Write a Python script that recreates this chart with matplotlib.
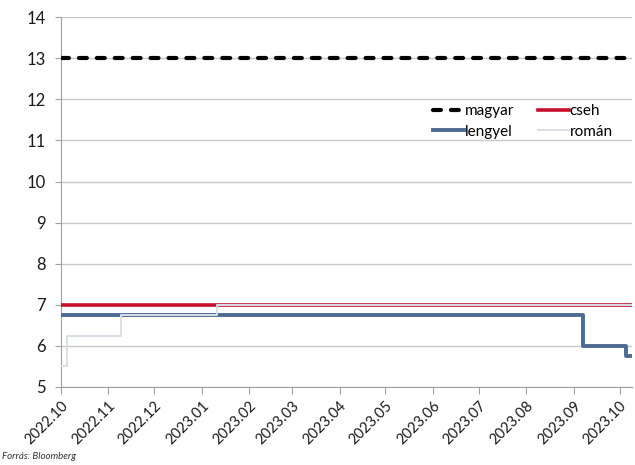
import matplotlib
matplotlib.use("Agg")
import matplotlib.pyplot as plt
import matplotlib.dates as mdates
import pandas as pd

# Data (policy rates, %)
START = "2022-10-01"
END = "2023-10-09"

hu_dates = [START, END]
hu_rates = [13.0, 13.0]

cz_dates = [START, END]
cz_rates = [7.0, 7.0]

pl_dates = [START, "2023-09-07", "2023-10-05", END]
pl_rates = [6.75, 6.0, 5.75, 5.75]

ro_dates = [START, "2022-10-05", "2022-11-09", "2023-01-11", END]
ro_rates = [5.5, 6.25, 6.75, 7.0, 7.0]

plt.rcParams["font.family"] = ["Lato", "DejaVu Sans"]

fig = plt.figure(figsize=(6.35, 4.65), dpi=100)
ax = fig.add_axes([0.096, 0.168, 0.899, 0.795])

ax.plot(pd.to_datetime(hu_dates), hu_rates, color="black", lw=3,
        dashes=(1.9, 2.4), dash_capstyle="round", label="magyar", zorder=3)
ax.plot(pd.to_datetime(pl_dates), pl_rates, color="#4c6a93", lw=2.8,
        drawstyle="steps-post", label="lengyel", zorder=3)
ax.plot(pd.to_datetime(cz_dates), cz_rates, color="#c8102e", lw=2.6,
        label="cseh", zorder=3)
ax.plot(pd.to_datetime(ro_dates), ro_rates, color="#d9dee8", lw=1.4,
        drawstyle="steps-post", label="román", zorder=4)

ax.set_ylim(5, 14)
ax.set_yticks(range(5, 15))
ax.set_xlim(pd.Timestamp(START), pd.Timestamp(END))
ax.xaxis.set_major_locator(mdates.MonthLocator())
ax.xaxis.set_major_formatter(mdates.DateFormatter("%Y.%m"))
plt.setp(ax.get_xticklabels(), rotation=45, ha="right",
         rotation_mode="anchor")

ax.grid(axis="y", color="#c8c8c8", lw=1)
ax.set_axisbelow(True)
for side in ["top", "right"]:
    ax.spines[side].set_visible(False)
for side in ["left", "bottom"]:
    ax.spines[side].set_color("#a0a0a0")
ax.tick_params(axis="both", colors="#a0a0a0", labelcolor="#1a1a1a",
               labelsize=10.5, length=5)
ax.tick_params(axis="y", length=4.5, pad=6.5, labelsize=12)

ax.legend(ncol=2, frameon=False, loc="upper left",
          bbox_to_anchor=(0.652, 0.764), borderaxespad=0, borderpad=0,
          handlelength=2.0, handletextpad=0.05, columnspacing=1.6,
          fontsize=11, labelspacing=0.4)

fig.text(0.003, 0.012, "Forrás: Bloomberg", fontsize=7, style="italic",
         color="#333333")

fig.savefig("out.png", dpi=100)
